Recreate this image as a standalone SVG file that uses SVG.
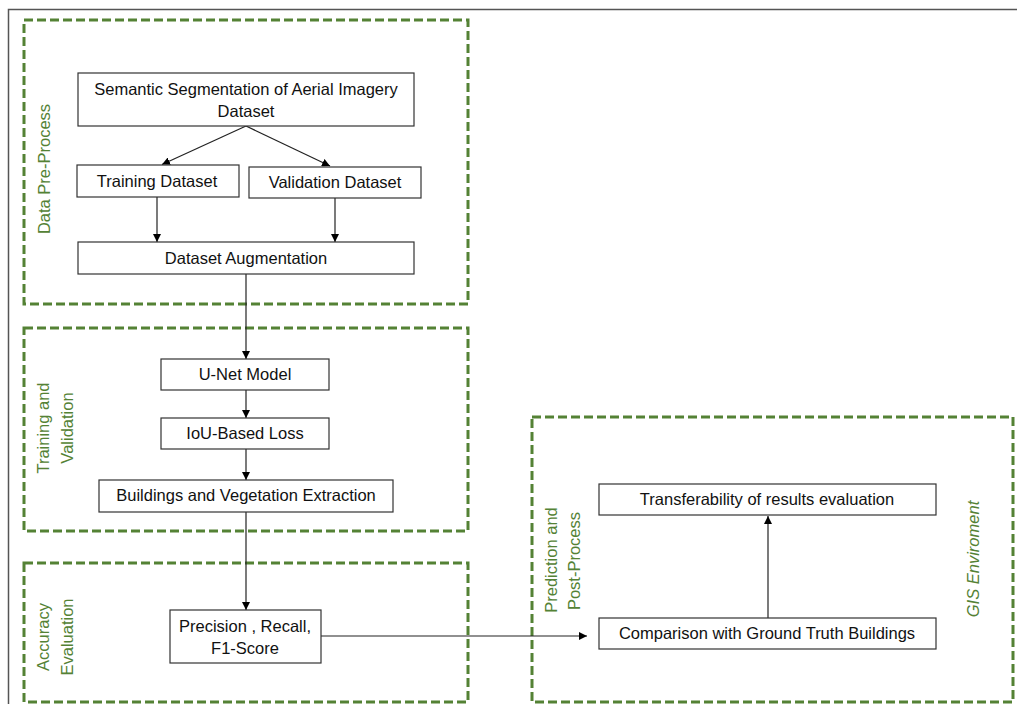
<svg xmlns="http://www.w3.org/2000/svg" width="1017" height="704" viewBox="0 0 1017 704">
<defs>
<marker id="ah" viewBox="0 0 10 10" refX="10" refY="5" markerWidth="8" markerHeight="8" markerUnits="userSpaceOnUse" orient="auto">
<path d="M0,0 L10,5 L0,10 z" fill="#000"/>
</marker>
<style>
.frame{fill:none;stroke:#555;stroke-width:1.5}
.grp{fill:none;stroke:#548235;stroke-width:3;stroke-dasharray:9,4}
.node{fill:#fff;stroke:#333;stroke-width:1.2}
.t{font-family:"Liberation Sans",Arial,sans-serif;font-size:16.5px;fill:#111;text-anchor:middle}
.g{font-family:"Liberation Sans",Arial,sans-serif;font-size:16.5px;fill:#548235;text-anchor:middle}
.c{fill:none;stroke:#222;stroke-width:1.2}
</style>
</defs>
<rect width="1017" height="704" fill="#fff"/>
<path class="frame" d="M8.5,704 V9.5 H1017"/>
<g id="groups">
<g id="g-preprocess"><rect class="grp" x="24" y="20" width="444" height="284"/><text class="g" transform="translate(50,169) rotate(-90)">Data Pre-Process</text></g>
<g id="g-training"><rect class="grp" x="24" y="328" width="444" height="203"/><text class="g" transform="translate(49,428) rotate(-90)">Training and</text><text class="g" transform="translate(73,428) rotate(-90)">Validation</text></g>
<g id="g-accuracy"><rect class="grp" x="24" y="563" width="444" height="139"/><text class="g" transform="translate(49,637) rotate(-90)">Accuracy</text><text class="g" transform="translate(73,637) rotate(-90)">Evaluation</text></g>
<g id="g-prediction"><rect class="grp" x="532" y="417" width="481" height="285"/><text class="g" transform="translate(557,560) rotate(-90)">Prediction and</text><text class="g" transform="translate(580,561) rotate(-90)">Post-Process</text><text class="g" font-style="italic" transform="translate(979,559) rotate(-90)">GIS Enviroment</text></g>
</g>
<g id="connectors">
<line class="c" x1="246" y1="126" x2="162" y2="164.5" marker-end="url(#ah)"/>
<line class="c" x1="246" y1="126" x2="330" y2="166" marker-end="url(#ah)"/>
<line class="c" x1="157" y1="197" x2="157" y2="242" marker-end="url(#ah)"/>
<line class="c" x1="335" y1="198" x2="335" y2="242" marker-end="url(#ah)"/>
<line class="c" x1="246" y1="274" x2="246" y2="359" marker-end="url(#ah)"/>
<line class="c" x1="246" y1="390" x2="246" y2="418" marker-end="url(#ah)"/>
<line class="c" x1="246" y1="449" x2="246" y2="480" marker-end="url(#ah)"/>
<line class="c" x1="246" y1="512" x2="246" y2="610" marker-end="url(#ah)"/>
<line class="c" x1="321" y1="636" x2="587" y2="636" marker-end="url(#ah)"/>
<line class="c" x1="768" y1="618" x2="768" y2="516" marker-end="url(#ah)"/>
</g>
<g id="n-semantic"><rect class="node" x="78" y="73" width="336" height="53"/><text class="t" x="246" y="95">Semantic Segmentation of Aerial Imagery</text><text class="t" x="246" y="117">Dataset</text></g>
<g id="n-training"><rect class="node" x="77" y="165" width="162" height="32"/><text class="t" x="157" y="187">Training Dataset</text></g>
<g id="n-validation"><rect class="node" x="249" y="167" width="172" height="31"/><text class="t" x="335" y="188">Validation Dataset</text></g>
<g id="n-augmentation"><rect class="node" x="78" y="242" width="336" height="32"/><text class="t" x="246" y="264">Dataset Augmentation</text></g>
<g id="n-unet"><rect class="node" x="161" y="359" width="168" height="31"/><text class="t" x="245" y="380">U-Net Model</text></g>
<g id="n-iou"><rect class="node" x="161" y="418" width="168" height="31"/><text class="t" x="245" y="439">IoU-Based Loss</text></g>
<g id="n-buildings"><rect class="node" x="99" y="480" width="294" height="32"/><text class="t" x="246" y="501">Buildings and Vegetation Extraction</text></g>
<g id="n-precision"><rect class="node" x="170" y="610" width="151" height="53"/><text class="t" x="245" y="632">Precision , Recall,</text><text class="t" x="245" y="654">F1-Score</text></g>
<g id="n-transfer"><rect class="node" x="599" y="484" width="337" height="31"/><text class="t" x="767" y="505">Transferability of results evaluation</text></g>
<g id="n-comparison"><rect class="node" x="599" y="618" width="337" height="31"/><text class="t" x="767" y="639">Comparison with Ground Truth Buildings</text></g>
</svg>
